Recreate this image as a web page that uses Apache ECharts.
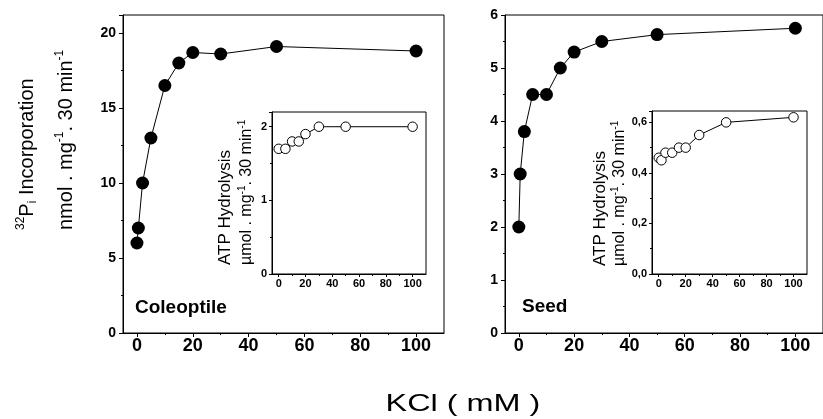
<!DOCTYPE html>
<html>
<head>
<meta charset="utf-8">
<script src="https://cdn.jsdelivr.net/npm/echarts@6/dist/echarts.min.js"></script>
<style>
  html, body { margin: 0; padding: 0; background: #fff; }
  #chart { width: 823px; height: 419px; }
</style>
</head>
<body>
<div id="chart"></div>
<script>
// KCl concentrations (mM) and 32Pi incorporation (nmol . mg-1 . 30 min-1)
const kclMain = [0, 0.5, 2, 5, 10, 15, 20, 30, 50, 100];
const coleoptileIncorporation = [6, 7, 10, 13, 16.5, 18, 18.7, 18.6, 19.1, 18.8];
const seedIncorporation = [2, 3, 3.8, 4.5, 4.5, 5, 5.3, 5.5, 5.63, 5.75];

// ATP hydrolysis (µmol . mg-1 . 30 min-1), inset panels
const kclColeoptileAtp = [0, 5, 10, 15, 20, 30, 50, 100];
const coleoptileAtp = [1.7, 1.7, 1.8, 1.8, 1.9, 2.0, 2.0, 2.0];
const kclSeedAtp = [0, 2, 5, 10, 15, 20, 30, 50, 100];
const seedAtp = [0.46, 0.45, 0.48, 0.48, 0.50, 0.50, 0.55, 0.60, 0.62];

// Tick positions on the KCl axes
const kclTicks = [0, 20, 40, 60, 80, 100];
const kclMinorTicks = [10, 30, 50, 70, 90];

const FONT = '"Liberation Sans", Arial, Helvetica, sans-serif';

const zip = (xs, ys) => xs.map((x, i) => [x, ys[i]]);

const xAxes = [];
const yAxes = [];

function addPanelAxes(gridIndex, cfg) {
  const xi = xAxes.length;
  const yi = yAxes.length;
  // KCl axis with labelled ticks
  xAxes.push({
    gridIndex, type: 'value', position: 'bottom', min: -5, max: 110,
    axisLine: { show: true, onZero: false, lineStyle: { color: '#000', width: 1 } },
    axisTick: { show: true, inside: false, length: cfg.tickLen, customValues: kclTicks,
                lineStyle: { color: '#000', width: 1 } },
    axisLabel: { show: true, customValues: kclTicks, color: '#000', fontFamily: FONT,
                 fontWeight: 'bold', fontSize: cfg.xFont, margin: cfg.xMargin },
    splitLine: { show: false }
  });
  // Unlabelled minor ticks
  xAxes.push({
    gridIndex, type: 'value', position: 'bottom', min: -5, max: 110,
    axisLine: { show: false, onZero: false },
    axisTick: { show: true, inside: false, length: cfg.minorLen, customValues: kclMinorTicks,
                lineStyle: { color: '#000', width: 1 } },
    axisLabel: { show: false },
    splitLine: { show: false }
  });
  yAxes.push({
    gridIndex, type: 'value', position: 'left', min: 0, max: cfg.yMax, interval: cfg.yInterval,
    axisLine: { show: true, onZero: false, lineStyle: { color: '#000', width: 1 } },
    axisTick: { show: true, inside: false, length: cfg.tickLen, lineStyle: { color: '#000', width: 1 } },
    minorTick: { show: true, splitNumber: 2, length: cfg.minorLen, lineStyle: { color: '#000', width: 1 } },
    axisLabel: { show: true, color: '#000', fontFamily: FONT, fontWeight: 'bold',
                 fontSize: cfg.yFont, margin: cfg.yMargin, showMaxLabel: cfg.showMax,
                 formatter: cfg.yFormat },
    splitLine: { show: false },
    minorSplitLine: { show: false }
  });
  yAxes.push({
    gridIndex, type: 'value', position: 'right', min: 0, max: cfg.yMax,
    axisLine: { show: false }, axisTick: { show: false }, axisLabel: { show: false },
    splitLine: { show: false }
  });
  return { xi, yi };
}

const mainFrame = { show: true, borderColor: '#000', borderWidth: 1, backgroundColor: 'transparent' };
const insetFrame = { show: true, borderColor: '#000', borderWidth: 1, backgroundColor: '#fff' };

const grids = [
  Object.assign({ left: 123, top: 15, width: 321, height: 318 }, mainFrame),   // coleoptile
  Object.assign({ left: 505, top: 15, width: 318, height: 318 }, mainFrame),   // seed
  Object.assign({ left: 272, top: 112, width: 154, height: 162 }, insetFrame), // coleoptile ATP
  Object.assign({ left: 652, top: 111, width: 155, height: 163 }, insetFrame)  // seed ATP
];

const axColeoptile = addPanelAxes(0, { yMax: 21.2, yInterval: 5, tickLen: 4, minorLen: 2,
  xFont: 18, xMargin: 4, yFont: 14, yMargin: 7, showMax: false, yFormat: v => String(v) });
const axSeed = addPanelAxes(1, { yMax: 6, yInterval: 1, tickLen: 4, minorLen: 2,
  xFont: 18, xMargin: 4, yFont: 14, yMargin: 7, showMax: true, yFormat: v => String(v) });
const axColeoptileAtp = addPanelAxes(2, { yMax: 2.2, yInterval: 1, tickLen: 3, minorLen: 2,
  xFont: 11, xMargin: 4, yFont: 11, yMargin: 5, showMax: false, yFormat: v => String(v) });
const axSeedAtp = addPanelAxes(3, { yMax: 0.645, yInterval: 0.2, tickLen: 3, minorLen: 2,
  xFont: 11, xMargin: 4, yFont: 11, yMargin: 5, showMax: false,
  yFormat: v => v.toFixed(1).replace('.', ',') });

function filledSeries(ax, xs, ys) {
  return {
    type: 'line', xAxisIndex: ax.xi, yAxisIndex: ax.yi, data: zip(xs, ys),
    symbol: 'circle', symbolSize: 13, z: 5,
    itemStyle: { color: '#000', borderColor: '#000', borderWidth: 0 },
    lineStyle: { color: '#000', width: 1 },
    emphasis: { disabled: true }
  };
}
function openSeries(ax, xs, ys) {
  return {
    type: 'line', xAxisIndex: ax.xi, yAxisIndex: ax.yi, data: zip(xs, ys),
    symbol: 'circle', symbolSize: 9.5, z: 5,
    itemStyle: { color: '#fff', borderColor: '#000', borderWidth: 1 },
    lineStyle: { color: '#000', width: 1 },
    emphasis: { disabled: true }
  };
}

const supStyle = (size) => ({ fontSize: size, fontFamily: FONT, fill: '#000', verticalAlign: 'top', lineHeight: Math.round(size * 1.9) });
const subStyle = (size) => ({ fontSize: size, fontFamily: FONT, fill: '#000', verticalAlign: 'bottom', lineHeight: Math.round(size * 1.9) });

function verticalLabel(x, y, text, size) {
  return {
    type: 'text', x, y, rotation: Math.PI / 2, z: 100,
    style: {
      text, fontSize: size, fontFamily: FONT, fill: '#000',
      align: 'left', verticalAlign: 'middle', lineHeight: Math.round(size * 1.2),
      rich: {
        n: { fontSize: size, fontFamily: FONT, fill: '#000', lineHeight: Math.round(size * 1.2) },
        sup: supStyle(Math.round(size * 0.62)),
        sub: subStyle(Math.round(size * 0.62))
      }
    }
  };
}

const option = {
  animation: false,
  backgroundColor: '#fff',
  grid: grids,
  xAxis: xAxes,
  yAxis: yAxes,
  series: [
    filledSeries(axColeoptile, kclMain, coleoptileIncorporation),
    filledSeries(axSeed, kclMain, seedIncorporation),
    openSeries(axColeoptileAtp, kclColeoptileAtp, coleoptileAtp),
    openSeries(axSeedAtp, kclSeedAtp, seedAtp)
  ],
  graphic: [
    { type: 'text', x: 135, y: 308, z: 100,
      style: { text: 'Coleoptile', fontSize: 19, fontWeight: 'bold', fontFamily: FONT, fill: '#000',
               align: 'left', verticalAlign: 'middle' } },
    { type: 'text', x: 522, y: 307, z: 100,
      style: { text: 'Seed', fontSize: 19, fontWeight: 'bold', fontFamily: FONT, fill: '#000',
               align: 'left', verticalAlign: 'middle' } },
    { type: 'text', x: 463, y: 404, z: 100, scaleX: 1.35,
      style: { text: 'KCl ( mM )', fontSize: 24, fontFamily: FONT, fill: '#000',
               align: 'center', verticalAlign: 'middle' } },
    verticalLabel(27, 230, '{n|}{sup|32}{n|P}{sub|i}{n| Incorporation}', 20),
    verticalLabel(66, 230, '{n|nmol . mg}{sup|-1}{n|. 30 min}{sup|-1}', 20),
    verticalLabel(225, 265, 'ATP Hydrolysis', 17),
    verticalLabel(247, 265, '{n|µmol . mg}{sup|-1}{n|. 30 min}{sup|-1}', 16),
    verticalLabel(600, 266, 'ATP Hydrolysis', 17),
    verticalLabel(620, 266, '{n|µmol . mg}{sup|-1}{n|. 30 min}{sup|-1}', 16)
  ]
};

const chart = echarts.init(document.getElementById('chart'), null, { renderer: 'canvas' });
chart.setOption(option);
</script>
</body>
</html>
